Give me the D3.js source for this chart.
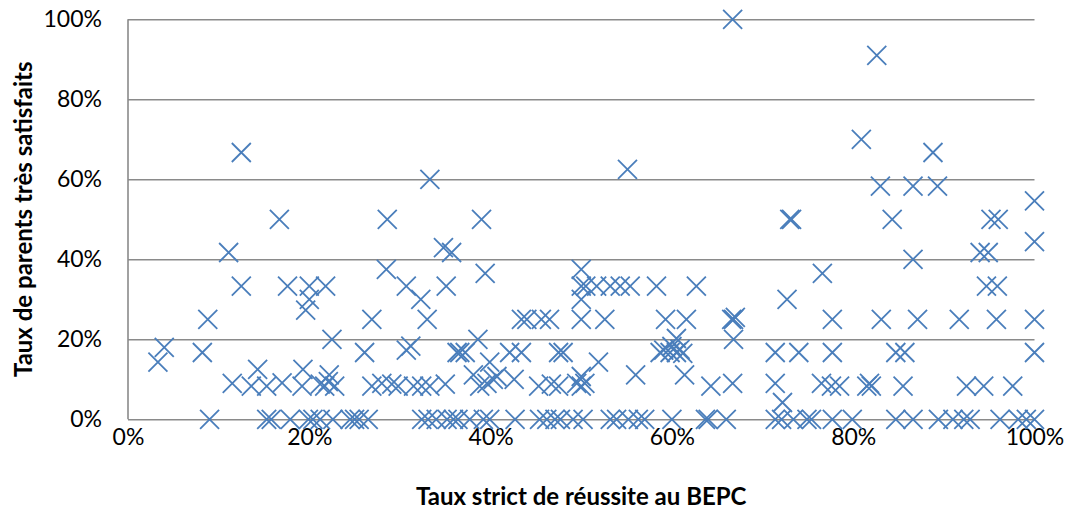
<!DOCTYPE html>
<html>
<head>
<meta charset="utf-8">
<script src="https://cdn.jsdelivr.net/npm/d3@7"></script>
<style>
	body { margin: 0; background: #fff; }
	text { font-family: Lato, "Open Sans", sans-serif; fill: #000; }
</style>
</head>
<body>
<div id="chart-area"></div>
<script>

// Taux strict de réussite au BEPC (%), one value per school
var successRate = [
	12.5, 16.7, 33.3, 28.6, 39, 66.7, 55.1, 73, 73.2, 82.6, 80.9, 88.8, 83, 86.6, 89.3, 84.3, 95.2, 96, 100, 100,
	86.6, 94, 94.9, 76.6, 94.7, 95.9,
	11.1, 12.5, 17.6, 20, 21.8, 20, 19.6, 8.8, 4, 3.3, 8.2, 22.5, 14.3, 19.3, 22.2,
	11.5, 13.6, 15.3, 17, 19.2, 21.2, 21.7, 22.1, 22.8,
	34.8, 35.7, 28.5, 39.4, 30.7, 35.1, 32.3, 26.9, 33, 43.4, 44, 45.6, 46.5, 50, 50, 50, 50,
	26.1, 30.7, 31.2, 36.3, 36.6, 37.2, 38.6, 42.1, 43.4, 47.5, 48, 39.9, 38.1, 40.3, 39.6, 38.8, 40.7, 42.6,
	26.9, 28, 29.1, 29.8, 31.5, 32.4, 33.3, 35, 45.3, 46.7, 47.5, 49.5, 50, 50, 50.4,
	50.5, 51.7, 53.2, 54.3, 55.4, 58.3, 62.7, 72.7, 52.6, 59.3, 61.6, 66.6, 66.8, 67,
	60.5, 66.8, 59.1, 59.8, 60.5, 60.9, 58.7, 60, 61.2, 71.4, 74, 51.9, 56, 61.4, 64.3, 66.7, 71.4, 72.2,
	77.7, 83.1, 87.1, 91.7, 95.8, 100, 77.7, 84.7, 85.7, 100,
	76.5, 77.6, 78.5, 81.5, 82, 81.8, 85.5, 92.5, 94.4, 97.6,
	9, 15.3, 15.8, 17.9, 19.9, 20.4, 21.2, 22.6, 24.5, 25, 25.5, 26.5,
	32.4, 33.1, 34, 35.2, 35.9, 36.4, 37.7, 39.2, 39.9, 42.7, 45.4, 46.2, 47.1, 47.7, 49.1, 50.2,
	53.2, 53.9, 55.2, 56.3, 57, 60, 63.7, 64, 66, 71.4, 72.1, 73.4, 74.9, 75.4,
	77.7, 79.9, 84.7, 86.6, 89.4, 91, 92.2, 92.9, 96.2, 98.2, 99.1, 100
];

// Taux de parents très satisfaits (%), same order
var satisfiedRate = [
	66.7, 50, 60, 50, 50, 100, 62.5, 50, 50, 91, 70, 66.7, 58.3, 58.3, 58.3, 50, 50, 50, 54.6, 44.4,
	40, 41.7, 41.7, 36.5, 33.3, 33.3,
	41.7, 33.3, 33.3, 33.3, 33.3, 30, 27.3, 25, 18, 14.3, 16.7, 20, 12.5, 12.5, 11.1,
	9, 8.3, 8.3, 9.1, 8.3, 8.8, 8.3, 9.4, 8.3,
	42.9, 41.7, 37.5, 36.5, 33.3, 33.3, 30, 25, 25, 25, 25, 25, 25, 37.5, 33.3, 30, 25,
	16.7, 17.3, 18.3, 16.7, 16.7, 16.7, 20, 16.7, 16.7, 16.7, 16.7, 14.3, 11.1, 10, 9, 8.3, 10.7, 10,
	8.3, 9, 8.8, 8.3, 8.3, 8.3, 8.3, 8.8, 8.3, 8.8, 8.3, 9, 10.7, 8.3, 9,
	33.3, 33.3, 33.3, 33.3, 33.3, 33.3, 33.3, 30, 25, 25, 25, 25, 25, 25.5,
	20.2, 20, 17.3, 16.7, 16.7, 17.5, 16.7, 18.2, 16.5, 16.7, 16.7, 14.3, 11.1, 11.1, 8.3, 9, 9, 4.2,
	25, 25, 25, 25, 25, 25, 16.7, 16.7, 16.7, 16.7,
	9, 8.3, 8.3, 8.3, 8.3, 9, 8.3, 8.3, 8.3, 8.3,
	0, 0, 0, 0, 0, 0, 0, 0, 0, 0, 0, 0,
	0, 0, 0, 0, 0, 0, 0, 0, 0, 0, 0, 0, 0, 0, 0, 0,
	0, 0, 0, 0, 0, 0, 0, 0, 0, 0, 0, 0, 0, 0,
	0, 0, 0, 0, 0, 0, 0, 0, 0, 0, 0, 0
];

// Tick values for both axes
var xTicks = [0, 0.2, 0.4, 0.6, 0.8, 1];
var yTicks = [0, 0.2, 0.4, 0.6, 0.8, 1];

var xTitle = "Taux strict de réussite au BEPC";
var yTitle = "Taux de parents très satisfaits";


// Canvas size and margins
var margin = { top: 19.3, bottom: 94.7, left: 128, right: 37.5 };
var width  = 1072 - margin.left - margin.right;
var height = 514  - margin.top  - margin.bottom;

var svg = d3.select("#chart-area")
	.append("svg")
		.attr("width",  width  + margin.left + margin.right)
		.attr("height", height + margin.top  + margin.bottom);

var g = svg.append("g")
	.attr("transform", "translate(" + margin.left + ", " + margin.top + ")");


// Scales
var x = d3.scaleLinear().domain([0, 1]).range([0, width]);
var y = d3.scaleLinear().domain([0, 1]).range([height, 0]);


// Y axis with horizontal gridlines
var yAxisCall = d3.axisLeft(y)
	.tickValues(yTicks)
	.tickSize(-width)
	.tickPadding(26)
	.tickFormat(d3.format(".0%"));

var yAxisGroup = g.append("g")
	.attr("class", "y axis")
	.call(yAxisCall);

yAxisGroup.selectAll("line, path")
	.attr("stroke", "#8a8a8a")
	.attr("stroke-width", 1.6);
yAxisGroup.select(".domain").attr("d", "M0," + height + "V0");
yAxisGroup.selectAll("text")
	.attr("font-size", "23px")
	.attr("fill", "#000");


// X axis, labels only (the 0% gridline acts as baseline)
var xAxisCall = d3.axisBottom(x)
	.tickValues(xTicks)
	.tickSize(0)
	.tickPadding(9)
	.tickFormat(d3.format(".0%"));

var xAxisGroup = g.append("g")
	.attr("class", "x axis")
	.attr("transform", "translate(0," + height + ")")
	.call(xAxisCall);

xAxisGroup.select(".domain").remove();
xAxisGroup.selectAll("text")
	.attr("font-size", "23px")
	.attr("fill", "#000");


// Points drawn as X markers
var points = successRate.map(function(d, i) {
	return { x: d / 100, y: satisfiedRate[i] / 100 };
});

var s = 9.5;
g.append("g")
	.selectAll("path")
	.data(points)
	.enter()
	.append("path")
		.attr("transform", function(d) { return "translate(" + x(d.x) + "," + y(d.y) + ")"; })
		.attr("d", "M" + (-s) + "," + (-s) + "L" + s + "," + s + "M" + (-s) + "," + s + "L" + s + "," + (-s))
		.attr("fill", "none")
		.attr("stroke", "#4a7ebb")
		.attr("stroke-width", 1.8);


// Axis titles
g.append("text")
	.attr("x", width / 2)
	.attr("y", height + 86)
	.attr("font-size", "24px")
	.attr("font-weight", "bold")
	.attr("text-anchor", "middle")
	.text(xTitle);

g.append("text")
	.attr("transform", "rotate(-90)")
	.attr("x", -(height / 2))
	.attr("y", -96)
	.attr("font-size", "24px")
	.attr("font-weight", "bold")
	.attr("text-anchor", "middle")
	.text(yTitle);

</script>
</body>
</html>
